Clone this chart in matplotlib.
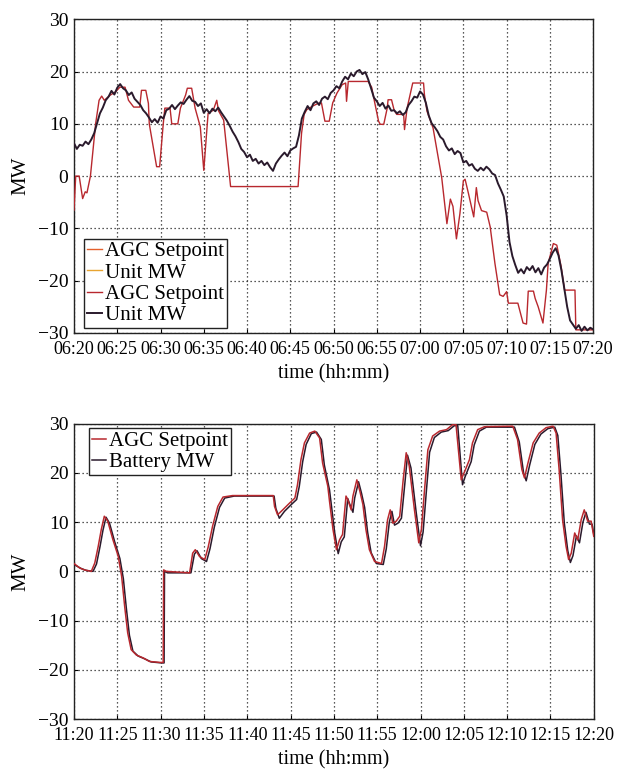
import matplotlib
matplotlib.use("Agg")
import matplotlib.pyplot as plt
import numpy as np

plt.rcParams["font.family"] = ["Liberation Serif", "DejaVu Serif"]

# --- top panel: AGC setpoint vs unit output (minutes after 06:20) ---
top_ticklabels = ["06:20", "06:25", "06:30", "06:35", "06:40", "06:45", "06:50",
                  "06:55", "07:00", "07:05", "07:10", "07:15", "07:20"]

top_agc_t = [0, 0.2, 0.6, 1.0, 1.3, 1.5, 1.9, 2.5, 2.9, 3.2, 3.5, 4.2, 4.8, 5.3, 5.9,
             6.3, 6.9, 7.6, 7.8, 8.3, 8.6, 8.7, 9.55, 9.9, 10.3, 10.5, 11.1, 11.3, 12.0,
             12.3, 12.9, 13.1, 13.6, 14.0, 14.6, 15.0, 15.5, 16.1, 16.5, 16.7, 17.3, 18.1,
             25.9, 26.3, 26.6, 26.9, 27.6, 28.2, 28.6, 29.0, 29.5, 29.9, 30.4, 31.0, 31.4,
             31.5, 31.7, 34.0, 34.4, 34.8, 35.2, 35.4, 35.8, 36.2, 36.3, 36.7, 37.0, 37.3,
             38.1, 38.2, 38.5, 38.85, 39.15, 40.4, 40.5, 40.8, 41.5, 41.9, 42.5, 43.1, 43.5,
             43.8, 44.2, 44.6, 45.0, 45.2, 45.6, 46.2, 46.5, 46.7, 47.1, 47.7, 48.1, 48.65,
             49.2, 49.6, 50.0, 50.2, 51.3, 51.9, 52.3, 52.5, 53.1, 53.3, 53.65, 54.2, 54.6,
             54.8, 55.4, 55.8, 56.3, 56.7, 57.9, 58.0, 60.0]
top_agc_mw = [-6.5, 0, 0, -4.3, -3.0, -3.2, 0, 10, 14.5, 15.3, 14.5, 15.5, 16.1, 17, 17,
              14.5, 13.2, 13.2, 16.4, 16.4, 13.9, 10, 1.8, 1.8, 9.7, 13, 13, 10, 10,
              13, 15.5, 16.8, 16.8, 13, 9.4, 1.1, 12, 12.6, 14.5, 12.5, 10.7, -2,
              -2, 8.2, 11.8, 12.7, 13.4, 13.9, 14.0, 10.5, 10.5, 14.0, 15.9, 17.5, 17.8,
              14.3, 18.1, 18.1, 17.0, 13.7, 10.5, 9.9, 9.9, 13.0, 14.6, 14.6, 12.6, 11.8,
              11.8, 8.9, 13.0, 15.6, 17.8, 17.8, 15.6, 12.4, 9.2, 5.4, -0.3, -9.1, -4.4,
              -5.8, -12.0, -7.2, -0.9, -0.6, -3.4, -7.8, -2.2, -4.7, -6.6, -6.9, -9.7, -16.7,
              -22.7, -23.0, -22.1, -24.3, -24.3, -28.1, -28.3, -22.0, -22.0, -23.4, -25.0, -28.1, -21.8,
              -16.7, -12.9, -13.2, -17.3, -21.8, -21.8, -29.4, -29.4]

# unit output sampled every 20 s
top_unit_t = np.arange(181) / 3.0
top_unit_mw = [
    6.3, 5.2, 6.0, 5.8, 6.6, 6.1, 7.0, 8.2, 10.1, 12.0, 13.1, 14.5,
    15.2, 16.3, 15.6, 16.9, 17.6, 16.8, 16.4, 15.5, 16.0, 14.8, 14.2, 13.6,
    12.6, 12.0, 11.2, 10.3, 10.9, 10.2, 11.4, 11.0, 12.6, 12.9, 13.6, 12.8,
    13.5, 14.1, 13.8, 14.6, 15.3, 14.4, 14.2, 13.4, 13.9, 12.1, 12.8, 12.0,
    12.9, 12.4, 13.1, 12.2, 11.4, 10.6, 9.6, 8.5, 7.6, 6.5, 5.2, 4.6,
    3.6, 4.1, 2.9, 3.3, 2.4, 2.9, 2.1, 2.6, 1.7, 1.0, 2.4, 3.2,
    3.9, 4.5, 3.8, 4.9, 5.3, 5.6, 7.8, 11.0, 12.3, 13.4, 12.6, 13.9,
    14.3, 13.6, 14.8, 15.2, 14.7, 15.9, 16.4, 17.2, 16.8, 18.1, 19.0, 18.5,
    19.6, 19.1, 20.0, 20.3, 19.5, 19.9, 18.5, 16.8, 15.0, 14.3, 13.4, 14.0,
    12.9, 13.5, 12.5, 12.6, 12.0, 12.4, 11.7, 12.2, 13.6, 14.3, 15.2, 15.0,
    16.2, 15.6, 14.0, 11.6, 10.1, 9.4, 8.6, 7.5, 7.0, 5.7, 4.9, 5.3,
    4.2, 4.8, 4.4, 2.6, 2.9, 2.0, 2.3, 1.4, 1.0, 1.6, 1.1, 1.8,
    1.3, 0.5, 0.2, -1.4, -2.6, -3.9, -7.5, -12.6, -15.3, -17.0, -18.5, -17.8,
    -18.6, -17.4, -18.0, -17.2, -18.4, -17.6, -18.8, -17.5, -16.9, -15.8, -14.6, -13.8,
    -15.2, -18.0, -21.5, -25.0, -27.6, -28.4, -29.2, -28.5, -29.6, -28.8, -29.5, -29.0,
    -29.3]

# --- bottom panel: AGC setpoint vs battery output (minutes after 11:20) ---
bot_ticklabels = ["11:20", "11:25", "11:30", "11:35", "11:40", "11:45", "11:50",
                  "11:55", "12:00", "12:05", "12:10", "12:15", "12:20"]

bot_agc_t = [0, 0.65, 1.2, 2.0, 2.4, 2.8, 3.15, 3.5, 3.9, 4.5, 5.1, 5.5, 5.85, 6.2, 6.6,
             7.2, 8.0, 8.7, 9.9, 10.3, 10.35, 10.65, 13.35, 13.7, 14.0, 14.5, 15.1, 15.5,
             16.0, 16.6, 17.2, 18.3, 23.0, 23.15, 23.5, 24.1, 24.9, 25.5, 25.8, 26.2, 26.6,
             27.2, 27.8, 28.35, 28.7, 29.3, 29.5, 29.9, 30.3, 30.65, 31.0, 31.4, 31.6, 32.0,
             32.2, 32.65, 33.0, 33.35, 33.7, 34.1, 34.7, 35.5, 35.85, 36.2, 36.5, 36.8, 37.2,
             37.6, 38.0, 38.35, 38.7, 39.3, 39.8, 40.1, 40.5, 40.85, 41.4, 42.2, 43.0, 43.7,
             44.1, 44.7, 44.9, 45.1, 45.65, 46.0, 46.6, 47.4, 50.65, 51.2, 51.7, 52.0, 52.4,
             53.0, 53.7, 54.5, 55.3, 55.65, 56.0, 56.4, 56.8, 57.1, 57.4, 57.8, 58.15, 58.55,
             58.9, 59.3, 59.7, 60.0]
bot_agc_mw = [1.6, 0.7, 0.3, 0, 1.7, 5.1, 8.5, 11.2, 10.2, 6.4, 3.1, -1.0, -7.1, -12.5, -15.9,
              -17.0, -17.6, -18.3, -18.5, -18.5, 0.3, 0, -0.3, 3.7, 4.4, 3.0, 2.4, 5.0,
              9.2, 13.2, 15.1, 15.4, 15.4, 13.2, 11.5, 12.5, 13.9, 14.9, 17.6, 22.7, 26.1,
              28.1, 28.5, 27.1, 22.0, 17.3, 14.2, 8.5, 4.4, 6.4, 7.5, 15.3, 14.6, 12.5,
              15.3, 18.6, 16.3, 13.6, 8.5, 4.4, 2.0, 1.6, 5.1, 10.5, 12.5, 9.8, 10.2,
              11.2, 18.6, 24.1, 21.4, 12.5, 5.8, 8.5, 17.3, 24.7, 27.5, 28.5, 28.8, 29.8,
              29.8, 18.6, 19.5, 20.3, 22.7, 26.1, 28.8, 29.4, 29.5, 26.8, 20.7, 19.0, 22.0,
              26.1, 28.1, 29.2, 29.5, 28.1, 20.7, 10.5, 5.1, 2.4, 3.7, 7.8, 6.4, 10.5,
              12.5, 10.2, 10.2, 7.1]

bot_batt_t = [0, 0.8, 1.4, 2.2, 2.6, 3.0, 3.35, 3.7, 4.1, 4.7, 5.3, 5.7, 6.05, 6.4, 6.8,
              7.4, 8.2, 8.9, 10.1, 10.4, 10.45, 10.8, 13.5, 13.9, 14.2, 14.7, 15.3, 15.7,
              16.2, 16.8, 17.4, 18.5, 23.1, 23.3, 23.7, 24.3, 25.1, 25.7, 26.0, 26.4, 26.8,
              27.4, 28.0, 28.55, 28.9, 29.5, 29.7, 30.1, 30.5, 30.85, 31.2, 31.6, 31.8, 32.2,
              32.4, 32.85, 33.2, 33.55, 33.9, 34.3, 34.9, 35.7, 36.05, 36.4, 36.7, 37.0, 37.4,
              37.8, 38.2, 38.5, 38.9, 39.5, 40.0, 40.3, 40.7, 41.05, 41.6, 42.4, 43.2, 43.9,
              44.3, 44.85, 45.1, 45.3, 45.85, 46.2, 46.8, 47.6, 50.85, 51.4, 51.9, 52.2, 52.6,
              53.2, 53.9, 54.7, 55.5, 55.85, 56.2, 56.6, 57.0, 57.3, 57.6, 58.0, 58.35, 58.75,
              59.1, 59.5, 59.8, 60.0]
bot_batt_mw = [1.4, 0.6, 0.2, 0, 1.5, 5.0, 8.4, 11.0, 9.8, 6.0, 2.6, -1.5, -7.6, -13.0, -16.2,
               -17.2, -17.8, -18.4, -18.6, -18.6, 0.0, -0.3, -0.3, 3.5, 4.2, 2.6, 2.0, 4.6,
               9.0, 13.0, 14.9, 15.3, 15.3, 12.8, 10.8, 12.2, 13.6, 14.6, 17.2, 22.3, 25.8,
               28.0, 28.3, 26.8, 21.6, 16.5, 13.6, 7.8, 3.6, 6.0, 7.0, 14.8, 13.8, 12.0,
               14.9, 18.2, 15.8, 13.0, 7.9, 3.8, 1.6, 1.4, 4.6, 10.0, 12.2, 9.4, 9.8,
               10.8, 18.0, 23.6, 21.0, 12.0, 5.2, 8.0, 16.8, 24.2, 27.2, 28.3, 28.6, 29.6,
               29.6, 17.6, 19.0, 19.9, 22.3, 25.7, 28.5, 29.3, 29.3, 26.3, 20.0, 18.4, 21.6,
               25.8, 27.9, 29.0, 29.3, 27.6, 20.0, 9.8, 4.2, 1.8, 3.2, 7.2, 5.8, 10.0,
               12.0, 9.6, 9.6, 7.6]

RED = "#b8282e"
DARK = "#2a1a2c"


def style_axes(ax, ticklabels):
    ax.set_xlim(0, 60)
    ax.set_ylim(-30, 30)
    ax.set_xticks(np.arange(0, 61, 5))
    ax.set_xticklabels(ticklabels, fontsize=13)
    ax.set_yticks([-30, -20, -10, 0, 10, 20, 30])
    ax.set_yticklabels(["\u221230", "\u221220", "\u221210", "0", "10", "20", "30"], fontsize=14)
    ax.tick_params(direction="in", length=3, width=0.8)
    ax.tick_params(axis="x", pad=6)
    ax.tick_params(axis="y", pad=4)
    ax.grid(True, color="#222222", linestyle=(0, (1, 2.2)), linewidth=0.9)
    for sp in ax.spines.values():
        sp.set_linewidth(1.0)
        sp.set_color("#222222")
    ax.set_xlabel("time (hh:mm)", fontsize=14.5, labelpad=4)
    ax.set_ylabel("MW", fontsize=15, labelpad=5)


fig = plt.figure(figsize=(6.27, 7.69), dpi=100)
ax1 = fig.add_axes([0.118, 0.567, 0.828, 0.408])
ax2 = fig.add_axes([0.118, 0.065, 0.829, 0.384])

legend_kw = dict(fontsize=15, handlelength=0.7, handletextpad=0.15, borderpad=0.15,
                 labelspacing=0.08, fancybox=False, framealpha=1, edgecolor="#222222",
                 borderaxespad=0)

# top panel
ax1.plot([], [], color="#e4602c", lw=1.0, label="AGC Setpoint")
ax1.plot([], [], color="#e8a431", lw=1.0, label="Unit MW")
ax1.plot(top_agc_t, top_agc_mw, color=RED, lw=1.0, label="AGC Setpoint", zorder=3)
ax1.plot(top_unit_t, top_unit_mw, color=DARK, lw=1.4, label="Unit MW", zorder=4)
style_axes(ax1, top_ticklabels)
ax1.legend(loc="lower left", bbox_to_anchor=(0.02, 0.015), **legend_kw)

# bottom panel
ax2.plot(bot_agc_t, bot_agc_mw, color=RED, lw=1.1, label="AGC Setpoint", zorder=4)
ax2.plot(bot_batt_t, bot_batt_mw, color=DARK, lw=1.1, label="Battery MW", zorder=3)
style_axes(ax2, bot_ticklabels)
ax2.legend(loc="upper left", bbox_to_anchor=(0.028, 0.985), **legend_kw)

fig.savefig("out.png", dpi=100)
